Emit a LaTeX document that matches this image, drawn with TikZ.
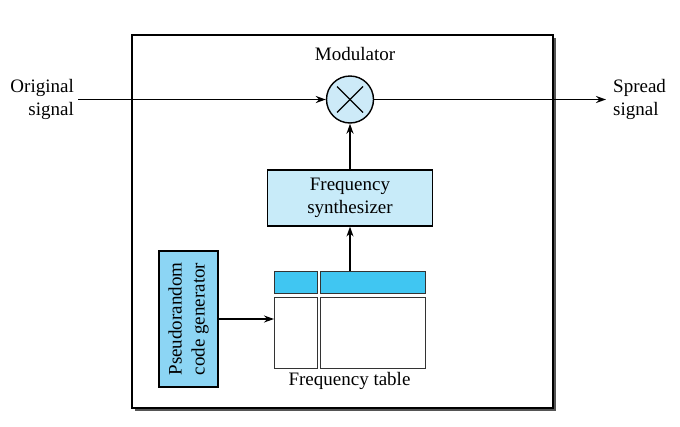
\documentclass[tikz,border=0pt]{standalone}
\usepackage{fontspec}
\setmainfont{Liberation Serif}
\usetikzlibrary{arrows.meta}
\definecolor{circfill}{HTML}{CDEAF8}
\definecolor{synthfill}{HTML}{C8EBF9}
\definecolor{prfill}{HTML}{8CD5F4}
\definecolor{headfill}{HTML}{40C6F2}
\definecolor{celledge}{HTML}{333333}
\definecolor{shadowc}{HTML}{555555}
\tikzset{
  lbl/.style={font=\fontsize{19}{23}\selectfont, inner sep=0pt},
  blk/.style={draw, line width=1.2pt, font=\fontsize{19}{23}\selectfont, align=center, inner sep=0pt},
  cell/.style={draw=celledge, line width=1pt, inner sep=0pt},
  conn/.style={line width=1.4pt, -{Stealth[length=10pt,width=7pt]}},
}
\begin{document}
\begin{tikzpicture}[x=1pt,y=-1pt]
\useasboundingbox (0,0) rectangle (680,426);
% outer box with shadow
\fill[shadowc] (135,38) rectangle (556,411);
\draw[fill=white, line width=1.3pt] (132,35) rectangle (553,408);
\node[lbl] (modlbl) at (355,54) {Modulator};
% modulator
\node[circle, draw, line width=1.4pt, fill=circfill, minimum size=47pt, inner sep=0pt] (mod) at (350,99.5) {};
\draw[line width=1.4pt] ([shift={(-13,-13)}]mod.center) -- ([shift={(13,13)}]mod.center);
\draw[line width=1.4pt] ([shift={(-13,13)}]mod.center) -- ([shift={(13,-13)}]mod.center);
% synthesizer
\node[blk, fill=synthfill, minimum width=165pt, minimum height=56pt] (synth) at (350,198) {Frequency\\synthesizer};
% frequency table
\node[cell, fill=headfill, minimum width=43pt, minimum height=22pt] (tl) at (296,282.2) {};
\node[cell, fill=headfill, minimum width=105pt, minimum height=22pt] (tr) at (373,282.2) {};
\node[cell, fill=white, minimum width=43pt, minimum height=71pt] (bl) at (296,332.5) {};
\node[cell, fill=white, minimum width=105pt, minimum height=71pt] (br) at (373,332.5) {};
\node[lbl] (ftlbl) at (349.5,381) {Frequency table};
% pseudorandom generator
\node[blk, fill=prfill, rotate=90, minimum width=136pt, minimum height=59pt] (pr) at (188.5,319) {Pseudorandom\\code generator};
% side labels
\node[lbl, align=right, anchor=east] (orig) at (74,99.5) {Original\\signal};
\node[lbl, align=left, anchor=west] (spread) at (613,99.5) {Spread\\signal};
\coordinate (in) at (78,99.5);
\coordinate (out) at (606,99.5);
% connectors
\draw[conn] (in) -- (mod.west);
\draw[conn] (mod.east) -- (out);
\draw[conn] (synth.north) -- (mod.south);
\draw[conn] (synth.south |- tr.north) -- (synth.south);
\draw[conn] (pr.south) -- (pr.south -| bl.west);
\end{tikzpicture}
\end{document}
